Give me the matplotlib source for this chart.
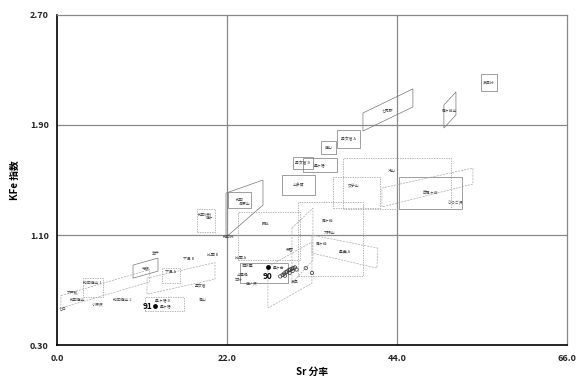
import matplotlib
matplotlib.use("Agg")
import matplotlib.pyplot as plt
from matplotlib.patches import Rectangle, Polygon

plt.rcParams["font.family"] = ["Noto Sans CJK JP", "DejaVu Sans"]

# source fields: solid boxes (x0, x1, y0, y1)
box_names = ["麦草峠", "男女倉 A", "鷹山", "男女倉 B", "星ヶ塔", "上多賀", "西霧ヶ峰", "和田", ""]
box_x0 = [54.9, 36.2, 34.2, 30.5, 31.8, 29.1, 44.3, 22.1, 23.7]
box_x1 = [56.9, 39.2, 36.1, 33.1, 36.2, 33.4, 52.4, 25.1, 29.9]
box_y0 = [2.15, 1.73, 1.69, 1.58, 1.56, 1.39, 1.29, 1.30, 0.75]
box_y1 = [2.27, 1.86, 1.78, 1.67, 1.66, 1.54, 1.52, 1.41, 0.90]

# dashed boxes
dbox_names = ["冷山", "双子山", "和田(芙)", "諏訪", "霧ヶ峰", "下呂 A", "和田鷹山 1", "星ヶ塔 B"]
dbox_x0 = [37.0, 35.7, 18.1, 23.4, 31.2, 13.6, 3.4, 11.4]
dbox_x1 = [51.0, 41.8, 20.4, 31.5, 39.6, 15.9, 6.0, 16.5]
dbox_y0 = [1.29, 1.30, 1.12, 0.92, 0.80, 0.75, 0.65, 0.55]
dbox_y1 = [1.66, 1.52, 1.29, 1.27, 1.34, 0.86, 0.79, 0.65]

# parallelogram fields, corners in data units
para_names = ["霧ヶ峰山", "七尾群", "高原山", "寺坂"]
para_x = [[50.08, 50.08, 51.64, 51.64],
          [39.60, 39.60, 46.07, 46.07],
          [21.87, 26.66, 26.66, 21.87],
          [9.84, 13.07, 13.07, 9.84]]
para_y = [[1.878, 2.045, 2.140, 1.973],
          [1.856, 1.987, 2.162, 2.031],
          [1.405, 1.500, 1.318, 1.085],
          [0.882, 0.933, 0.838, 0.787]]

dpara_names = ["", "星糞 A", "", "", "", ""]
dpara_x = [[42.06, 42.06, 53.84, 53.84],
           [33.00, 41.54, 41.41, 33.00],
           [30.41, 33.13, 33.13, 30.41],
           [11.65, 20.45, 20.45, 11.65],
           [0.5, 12.0, 12.0, 0.5],
           [27.3, 33.0, 33.0, 27.3]]
dpara_y = [[1.304, 1.442, 1.587, 1.471],
           [1.100, 1.005, 0.860, 0.969],
           [1.151, 1.296, 0.918, 0.751],
           [0.787, 0.900, 0.780, 0.670],
           [0.660, 0.850, 0.760, 0.570],
           [0.870, 1.050, 0.750, 0.570]]

# loose labels
label_names = ["ひつご沢", "大門山", "鷹ヶ", "金井", "下呂 B", "比栗 B", "比栗 A", "男女倉", "青山",
               "下戸鉱", "和田鷹山", "小深沢", "和田鷹山 2", "七日", "和田峠", "東餅屋",
               "土屋橋", "古峠", "鷹ノ沢", "芙蓉", "霧ヶ峰", "麦草"]
label_x = [50.5, 34.6, 19.3, 12.3, 16.3, 19.4, 23.0, 17.9, 18.4,
           1.3, 1.7, 4.5, 7.3, 0.2, 21.5, 23.9,
           23.3, 23.0, 24.5, 29.6, 33.5, 30.2]
label_y = [1.33, 1.115, 1.225, 0.976, 0.925, 0.955, 0.93, 0.73, 0.63,
           0.68, 0.63, 0.60, 0.63, 0.57, 1.09, 0.875,
           0.81, 0.77, 0.75, 1.00, 1.04, 0.76]

# analysed samples
sample_ids = ["90", "91"]
sample_x = [27.31, 12.68]
sample_y = [0.867, 0.584]
sample_names = ["星ヶ台", "星ヶ塔"]

# open circles: reference specimens
ref_x = [28.9, 29.2, 29.4, 29.6, 29.8, 30.0, 30.2, 30.4, 30.6, 30.8, 29.5, 30.1, 30.5, 31.0, 32.2, 33.0]
ref_y = [0.800, 0.810, 0.820, 0.830, 0.835, 0.845, 0.850, 0.855, 0.860, 0.865, 0.805, 0.825, 0.840, 0.850, 0.860, 0.825]

fig = plt.figure(figsize=(5.82, 3.81), dpi=100)
ax = fig.add_axes([0.098, 0.094, 0.876, 0.867])

lw = 0.5
ec = "#777777"
fs = 2.8

for n, x0, x1, y0, y1 in zip(box_names, box_x0, box_x1, box_y0, box_y1):
    ax.add_patch(Rectangle((x0, y0), x1 - x0, y1 - y0, fill=False, ec=ec, lw=lw))
    if n:
        ax.text((x0 + x1) / 2, (y0 + y1) / 2, n, fontsize=fs, ha="center", va="center", color="#444444")

for n, x0, x1, y0, y1 in zip(dbox_names, dbox_x0, dbox_x1, dbox_y0, dbox_y1):
    ax.add_patch(Rectangle((x0, y0), x1 - x0, y1 - y0, fill=False, ec="#999999", lw=lw, ls=(0, (2, 1.5))))
    ax.text(x0 + (x1 - x0) * 0.45, y0 + (y1 - y0) * 0.75, n, fontsize=fs, ha="center", va="center", color="#444444")

for n, xs, ys in zip(para_names, para_x, para_y):
    ax.add_patch(Polygon(list(zip(xs, ys)), closed=True, fill=False, ec=ec, lw=lw))
    ax.text(sum(xs) / 4, sum(ys) / 4, n, fontsize=fs, ha="center", va="center", color="#444444")

for n, xs, ys in zip(dpara_names, dpara_x, dpara_y):
    ax.add_patch(Polygon(list(zip(xs, ys)), closed=True, fill=False, ec="#aaaaaa", lw=lw, ls=(0, (3, 1.5))))
    if n:
        ax.text(sum(xs) / 4, sum(ys) / 4, n, fontsize=fs, ha="center", va="center", color="#444444")

for n, x, y in zip(label_names, label_x, label_y):
    ax.text(x, y, n, fontsize=fs, ha="left", va="center", color="#444444")

ax.scatter(ref_x, ref_y, s=6, facecolors="none", edgecolors="#333333", linewidths=0.5, zorder=3)

ax.scatter(sample_x, sample_y, s=6, color="black", zorder=4)
ax.text(sample_x[0], sample_y[0] - 0.065, sample_ids[0], fontsize=6, fontweight="bold", ha="center", va="center")
ax.text(sample_x[0] + 0.6, sample_y[0], sample_names[0], fontsize=fs, ha="left", va="center", color="#444444")
ax.text(sample_x[1] - 0.4, sample_y[1], sample_ids[1], fontsize=6, fontweight="bold", ha="right", va="center")
ax.text(sample_x[1] + 0.6, sample_y[1], sample_names[1], fontsize=fs, ha="left", va="center", color="#444444")

ax.set_xlim(0, 66)
ax.set_ylim(0.30, 2.70)
ax.set_xticks([0, 22, 44, 66])
ax.set_xticklabels(["0.0", "22.0", "44.0", "66.0"])
ax.set_yticks([0.30, 1.10, 1.90, 2.70])
ax.set_yticklabels(["0.30", "1.10", "1.90", "2.70"])
ax.tick_params(length=0, labelsize=6.5, pad=6)
for lab in ax.get_xticklabels() + ax.get_yticklabels():
    lab.set_fontweight("bold")
    lab.set_color("#222222")

for v in [22, 44]:
    ax.axvline(v, color="#888888", lw=0.9, zorder=0)
for v in [1.10, 1.90]:
    ax.axhline(v, color="#888888", lw=0.9, zorder=0)

ax.spines["left"].set_color("black")
ax.spines["bottom"].set_color("black")
ax.spines["left"].set_linewidth(1.2)
ax.spines["bottom"].set_linewidth(1.2)
ax.spines["top"].set_color("#888888")
ax.spines["right"].set_color("#888888")
ax.spines["top"].set_linewidth(0.9)
ax.spines["right"].set_linewidth(0.9)

ax.set_xlabel("Sr 分率", fontsize=7, fontweight="bold", labelpad=3)
ax.set_ylabel("KFe 指数", fontsize=7, fontweight="bold", labelpad=7)

fig.savefig("out.png", dpi=100)
